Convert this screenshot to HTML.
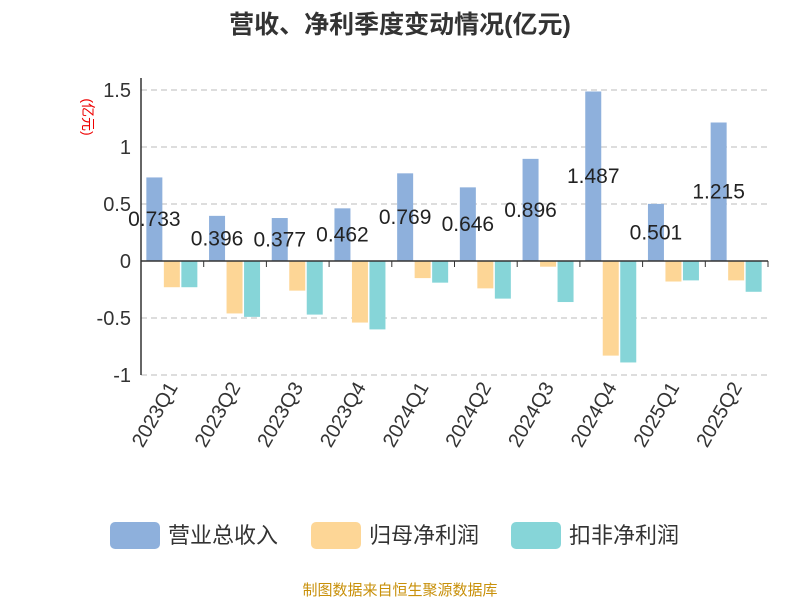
<!DOCTYPE html>
<html><head><meta charset="utf-8">
<style>
body{margin:0;background:#fff;}
svg{display:block;font-family:"Liberation Sans","Noto Sans CJK SC",sans-serif;}
</style></head>
<body>
<svg id="c" width="800" height="600">
<text x="400" y="33" text-anchor="middle" font-size="25" font-weight="bold" fill="#333">营收、净利季度变动情况(亿元)</text>
<text x="0" y="0" transform="translate(83,117) rotate(90)" text-anchor="middle" font-size="14" fill="#e00">(亿元)</text>
<g id="grid"></g><g id="bars"></g><g id="axes"></g>
<g>
<g><rect x="110" y="522" width="50" height="27" rx="5" fill="#8eb0dc"/><text x="168" y="543" font-size="22" fill="#333">营业总收入</text></g>
<g><rect x="311" y="522" width="50" height="27" rx="5" fill="#fdd696"/><text x="369" y="543" font-size="22" fill="#333">归母净利润</text></g>
<g><rect x="511" y="522" width="50" height="27" rx="5" fill="#86d5d8"/><text x="569" y="543" font-size="22" fill="#333">扣非净利润</text></g>
</g>
<text x="400" y="595" text-anchor="middle" font-size="15" fill="#c8900a">制图数据来自恒生聚源数据库</text>
</svg>
<script>
const categories=["2023Q1","2023Q2","2023Q3","2023Q4","2024Q1","2024Q2","2024Q3","2024Q4","2025Q1","2025Q2"];
const revenue=[0.733,0.396,0.377,0.462,0.769,0.646,0.896,1.487,0.501,1.215];
const netProfit=[-0.23,-0.46,-0.26,-0.54,-0.15,-0.24,-0.05,-0.83,-0.18,-0.17];
const deductedProfit=[-0.23,-0.49,-0.47,-0.60,-0.19,-0.33,-0.36,-0.89,-0.17,-0.27];
const yTicks=[1.5,1,0.5,0,-0.5,-1];
const yTickLabels=["1.5","1","0.5","0","-0.5","-1"];
const NS="http://www.w3.org/2000/svg";
const x0=141,x1=768,cw=(x1-x0)/categories.length;
const y=v=>261-v*114;
function mk(tag,attrs,parent){const e=document.createElementNS(NS,tag);for(const k in attrs)e.setAttribute(k,attrs[k]);parent.appendChild(e);return e;}
const grid=document.getElementById('grid'),bars=document.getElementById('bars'),axes=document.getElementById('axes');
yTicks.forEach((t,i)=>{
 if(t!==0){const l=mk('line',{x1:x0,x2:x1,y1:y(t),y2:y(t),stroke:'#bbb','stroke-dasharray':'6,4'},grid);
 
 }
 const tx=mk('text',{x:x0-10,y:y(t)+7,'text-anchor':'end','font-size':20,fill:'#333'},axes);
 tx.textContent=yTickLabels[i];
 
 
});
const ya=mk('line',{x1:x0,x2:x0,y1:y(1.5)-12,y2:y(-1),stroke:'#333','stroke-width':1.5},axes);


const xa=mk('line',{x1:x0,x2:x1,y1:y(0),y2:y(0),stroke:'#333','stroke-width':1.5},axes);


const bw=16;
const series=[[revenue,'#8eb0dc','revenue'],[netProfit,'#fdd696','net-profit'],[deductedProfit,'#86d5d8','deducted-profit']];
categories.forEach((c,i)=>{
 const cx=x0+cw*(i+0.5);
 series.forEach((s,j)=>{
  const v=s[0][i],bx=cx-26+j*17.5;
  const r=mk('rect',{x:bx,y:Math.min(y(v),y(0)),width:bw,height:Math.abs(y(v)-y(0)),fill:s[1]},bars);
  
  
 });
 const tk=mk('line',{x1:x0+cw*(i+1),x2:x0+cw*(i+1),y1:y(0),y2:y(0)+6,stroke:'#333'},axes);
 
 
 const lbl=mk('text',{transform:`translate(${cx+6},${y(-1)+12}) rotate(-60)`,'text-anchor':'end','font-size':20,fill:'#333'},axes);
 lbl.textContent=c;
 
 
 const bxc=cx-26+bw/2;
 const vl=mk('text',{x:bxc,y:(y(revenue[i])+y(0))/2+7,'text-anchor':'middle','font-size':21,fill:'#222'},bars);
 vl.textContent=revenue[i].toFixed(3);
 
 
});
</script>
</body></html>
